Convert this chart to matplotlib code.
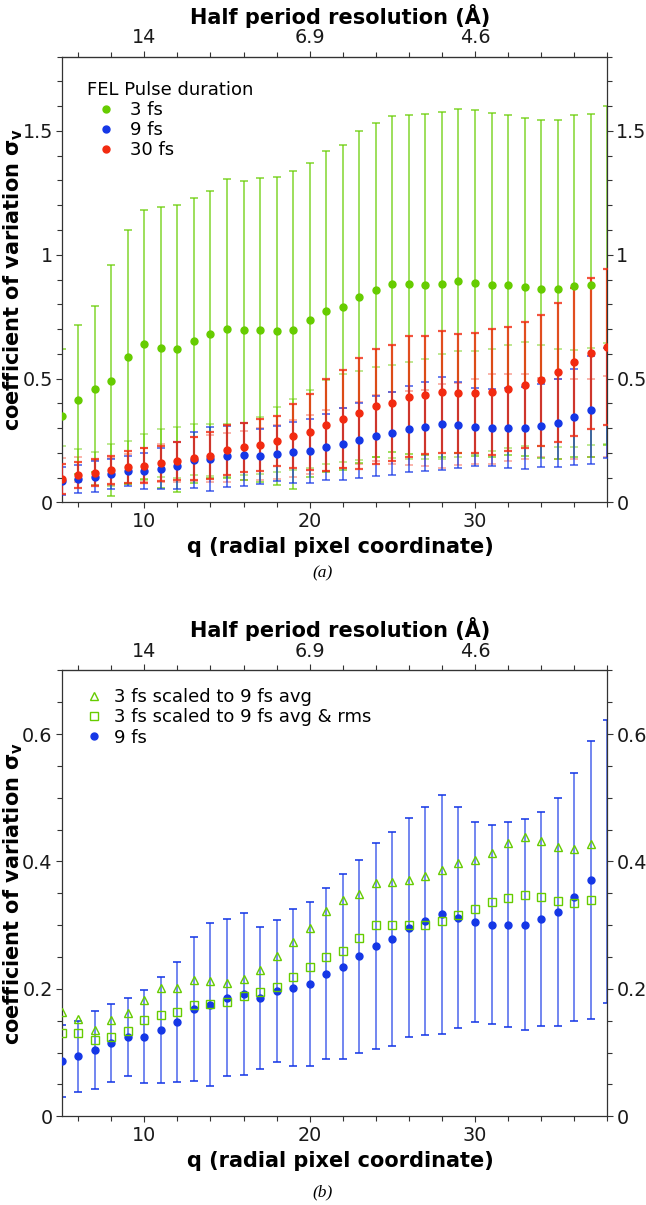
import numpy as np
import matplotlib
matplotlib.use('Agg')
import matplotlib.pyplot as plt
from matplotlib.ticker import MultipleLocator, FixedLocator, FuncFormatter

# ---------------- data ----------------
q = np.arange(5, 39)                       # radial pixel coordinate 5..38
top_tick_pos = [10, 20, 30]
top_tick_labels = ['14', '6.9', '4.6']

# panel (a)
fs3_val = [0.349, 0.415, 0.458, 0.492, 0.586, 0.638, 0.625, 0.621, 0.653, 0.679, 0.702, 0.694,
           0.695, 0.691, 0.696, 0.735, 0.771, 0.787, 0.828, 0.859, 0.881, 0.880, 0.879, 0.880,
           0.894, 0.886, 0.879, 0.877, 0.871, 0.863, 0.860, 0.872, 0.877, 0.916]
fs3_err = [0.272, 0.300, 0.336, 0.465, 0.512, 0.543, 0.567, 0.579, 0.575, 0.580, 0.603, 0.603,
           0.615, 0.623, 0.644, 0.634, 0.647, 0.658, 0.670, 0.674, 0.679, 0.683, 0.688, 0.697,
           0.696, 0.699, 0.695, 0.687, 0.683, 0.683, 0.686, 0.691, 0.692, 0.685]
fs9_val = [0.087, 0.094, 0.104, 0.115, 0.125, 0.125, 0.136, 0.148, 0.169, 0.175, 0.186, 0.192,
           0.186, 0.197, 0.202, 0.208, 0.224, 0.235, 0.251, 0.267, 0.278, 0.296, 0.306, 0.317,
           0.312, 0.305, 0.301, 0.301, 0.301, 0.310, 0.321, 0.344, 0.371, 0.400]
fs9_err = [0.056, 0.056, 0.061, 0.061, 0.061, 0.073, 0.083, 0.094, 0.113, 0.128, 0.123, 0.127,
           0.111, 0.111, 0.123, 0.129, 0.134, 0.145, 0.151, 0.162, 0.168, 0.172, 0.179, 0.188,
           0.173, 0.157, 0.156, 0.161, 0.166, 0.168, 0.179, 0.195, 0.218, 0.222]
fs30_val = [0.095, 0.110, 0.119, 0.130, 0.144, 0.148, 0.157, 0.167, 0.177, 0.189, 0.211, 0.222,
            0.230, 0.247, 0.267, 0.284, 0.312, 0.335, 0.359, 0.388, 0.402, 0.427, 0.435, 0.444,
            0.440, 0.441, 0.447, 0.457, 0.474, 0.493, 0.525, 0.566, 0.603, 0.627]
fs30_err = [0.060, 0.052, 0.055, 0.058, 0.065, 0.070, 0.072, 0.075, 0.085, 0.095, 0.100, 0.100,
            0.105, 0.100, 0.130, 0.152, 0.185, 0.198, 0.224, 0.233, 0.235, 0.245, 0.238, 0.246,
            0.241, 0.243, 0.255, 0.251, 0.253, 0.265, 0.280, 0.299, 0.305, 0.316]
# fainter secondary error bars seen in panel (a)
sec_g_ctr = [0.163, 0.153, 0.136, 0.151, 0.162, 0.182, 0.201, 0.202, 0.214, 0.213, 0.209, 0.215,
             0.230, 0.252, 0.273, 0.295, 0.323, 0.340, 0.349, 0.366, 0.368, 0.371, 0.377, 0.387,
             0.397, 0.403, 0.413, 0.429, 0.438, 0.432, 0.423, 0.419, 0.428, 0.440]
sec_g_hw = [0.065, 0.062, 0.066, 0.084, 0.085, 0.092, 0.097, 0.103, 0.104, 0.105, 0.107, 0.105,
            0.115, 0.131, 0.144, 0.158, 0.170, 0.177, 0.180, 0.181, 0.188, 0.196, 0.203, 0.211,
            0.214, 0.207, 0.205, 0.208, 0.210, 0.205, 0.198, 0.195, 0.197, 0.205]
sec_r_ctr = [0.130, 0.131, 0.120, 0.124, 0.134, 0.151, 0.159, 0.163, 0.175, 0.176, 0.180, 0.189,
             0.195, 0.203, 0.218, 0.234, 0.250, 0.260, 0.280, 0.300, 0.300, 0.300, 0.300, 0.307,
             0.316, 0.325, 0.336, 0.343, 0.347, 0.344, 0.338, 0.335, 0.340, 0.347]
sec_r_hw = [0.050, 0.050, 0.050, 0.055, 0.060, 0.070, 0.075, 0.080, 0.090, 0.095, 0.100, 0.100,
            0.105, 0.110, 0.115, 0.118, 0.122, 0.121, 0.126, 0.133, 0.146, 0.150, 0.153, 0.170,
            0.166, 0.172, 0.181, 0.176, 0.173, 0.160, 0.162, 0.162, 0.157, 0.163]

# panel (b)  (q = 5..37)
scaled_avg = [0.163, 0.153, 0.136, 0.151, 0.162, 0.182, 0.201, 0.202, 0.214, 0.213, 0.209, 0.215,
              0.230, 0.252, 0.273, 0.295, 0.323, 0.340, 0.349, 0.366, 0.368, 0.371, 0.377, 0.387,
              0.397, 0.403, 0.413, 0.429, 0.438, 0.432, 0.423, 0.419, 0.428]
scaled_avg_rms = [0.130, 0.131, 0.120, 0.124, 0.134, 0.151, 0.159, 0.163, 0.175, 0.176, 0.180, 0.189,
                  0.195, 0.203, 0.218, 0.234, 0.250, 0.260, 0.280, 0.300, 0.300, 0.300, 0.300, 0.307,
                  0.316, 0.325, 0.336, 0.343, 0.347, 0.344, 0.338, 0.335, 0.340]

GREEN = '#66cc00'
BLUE = '#1537e6'
RED = '#f22a10'
SPINE = '#333333'
TICK_FS = 13.8
LABEL_FS = 15
LEG_FS = 13

plt.rcParams['font.family'] = ['DejaVu Sans']

W, H = 646, 1205
fig = plt.figure(figsize=(W / 100, H / 100), dpi=100)
L, R = 61.7 / W, 607.3 / W
ax1 = fig.add_axes([L, 1 - 502.3 / H, R - L, (502.3 - 56.7) / H])
ax2 = fig.add_axes([L, 1 - 1116.3 / H, R - L, (1116.3 - 670.3) / H])

n_pts = len(q) - 1   # last column only has its error bar drawn


def eb(ax, y, err, color, alpha, lw, z, cap=3.2):
    c = ax.errorbar(q, y, yerr=err, fmt='none', ecolor=color, elinewidth=lw,
                    capsize=cap, capthick=lw, zorder=z)
    for art in list(c.lines[1]) + list(c.lines[2]):
        art.set_alpha(alpha)


# ---- panel (a) ----
eb(ax1, sec_g_ctr, sec_g_hw, GREEN, 0.55, 1.1, 1)
eb(ax1, sec_r_ctr, sec_r_hw, RED, 0.45, 1.1, 1)
eb(ax1, fs3_val, fs3_err, GREEN, 0.75, 1.2, 2)
eb(ax1, fs9_val, fs9_err, BLUE, 0.75, 1.2, 3)
eb(ax1, fs30_val, fs30_err, RED, 0.8, 1.6, 4)
ax1.plot(q[:n_pts], fs3_val[:n_pts], 'o', color=GREEN, ms=5, label='3 fs', zorder=5)
ax1.plot(q[:n_pts], fs9_val[:n_pts], 'o', color=BLUE, ms=5, label='9 fs', zorder=6)
ax1.plot(q, fs30_val, 'o', color=RED, ms=5, label='30 fs', zorder=7)
ax1.set_ylim(0, 1.8)
ax1.yaxis.set_major_locator(FixedLocator([0, 0.5, 1, 1.5]))
ax1.yaxis.set_minor_locator(MultipleLocator(0.1))
leg1 = ax1.legend(title='FEL Pulse duration', loc='upper left', frameon=False, fontsize=LEG_FS,
                  title_fontsize=LEG_FS, handletextpad=0.3, handlelength=2.1, labelspacing=0.12,
                  borderaxespad=0.4, bbox_to_anchor=(0.02, 0.978))
leg1._legend_box.align = 'left'

# ---- panel (b) ----
c = ax2.errorbar(q, fs9_val, yerr=fs9_err, fmt='none', ecolor=BLUE, elinewidth=1.2,
                 capsize=3.2, capthick=1.2, zorder=2)
for art in c.lines[1]:
    art.set_alpha(0.95)
for art in c.lines[2]:
    art.set_alpha(0.7)
ax2.plot(q[:n_pts], scaled_avg, '^', mfc='none', mec=GREEN, ms=6, mew=1.0,
         label='3 fs scaled to 9 fs avg', zorder=4)
ax2.plot(q[:n_pts], scaled_avg_rms, 's', mfc='none', mec=GREEN, ms=5.5, mew=1.0,
         label='3 fs scaled to 9 fs avg & rms', zorder=4)
ax2.plot(q[:n_pts], fs9_val[:n_pts], 'o', color=BLUE, ms=5, label='9 fs', zorder=3)
ax2.set_ylim(0, 0.7)
ax2.yaxis.set_major_locator(FixedLocator([0, 0.2, 0.4, 0.6]))
ax2.yaxis.set_minor_locator(MultipleLocator(0.05))
ax2.legend(loc='upper left', frameon=False, fontsize=LEG_FS, handletextpad=0.45, handlelength=1.4,
           labelspacing=0.12, borderaxespad=0.3, bbox_to_anchor=(0.012, 0.988))

fmt = FuncFormatter(lambda v, p: ('%g' % round(v, 3)))
for ax, cap_y in ((ax1, 573), (ax2, 1192)):
    ax.set_xlim(5, 38)
    ax.xaxis.set_major_locator(FixedLocator([10, 20, 30]))
    ax.xaxis.set_minor_locator(MultipleLocator(2))
    ax.yaxis.set_major_formatter(fmt)
    ax.tick_params(axis='both', which='both', direction='out', color=SPINE, width=0.8,
                   labelsize=TICK_FS, labelcolor='#1a1a1a', pad=2.5)
    ax.tick_params(which='major', length=4.5)
    ax.tick_params(which='minor', length=3.5)
    ax.tick_params(axis='y', which='both', right=True, labelright=True, pad=2)
    for s in ax.spines.values():
        s.set_color(SPINE)
        s.set_linewidth(0.9)
    ax.set_xlabel('q (radial pixel coordinate)', fontsize=LABEL_FS, fontweight='bold', labelpad=4)
    ax.xaxis.label.set_x(0.51)
    ax.set_ylabel('coefficient of variation σ$_\\mathbf{v}$', fontsize=LABEL_FS,
                  fontweight='bold')
    ax.yaxis.set_label_coords(-0.068, 0.5)
    sec = ax.secondary_xaxis('top')
    sec.xaxis.set_major_locator(FixedLocator(top_tick_pos))
    sec.set_xticklabels(top_tick_labels)
    sec.xaxis.set_minor_locator(MultipleLocator(2))
    sec.tick_params(axis='x', which='both', direction='out', color=SPINE, width=0.8,
                    labelsize=TICK_FS, labelcolor='#1a1a1a', pad=2.5)
    sec.tick_params(which='major', length=4.5)
    sec.tick_params(which='minor', length=3.5)
    sec.spines['top'].set_color(SPINE)
    sec.set_xlabel('Half period resolution (Å)', fontsize=LABEL_FS, fontweight='bold', labelpad=3)
    sec.xaxis.label.set_x(0.51)
    fig.text(0.5, 1 - cap_y / H, '(a)' if ax is ax1 else '(b)', ha='center', va='center',
             fontsize=12.5, style='italic', family='Liberation Serif')

fig.savefig('out.png', dpi=100)
